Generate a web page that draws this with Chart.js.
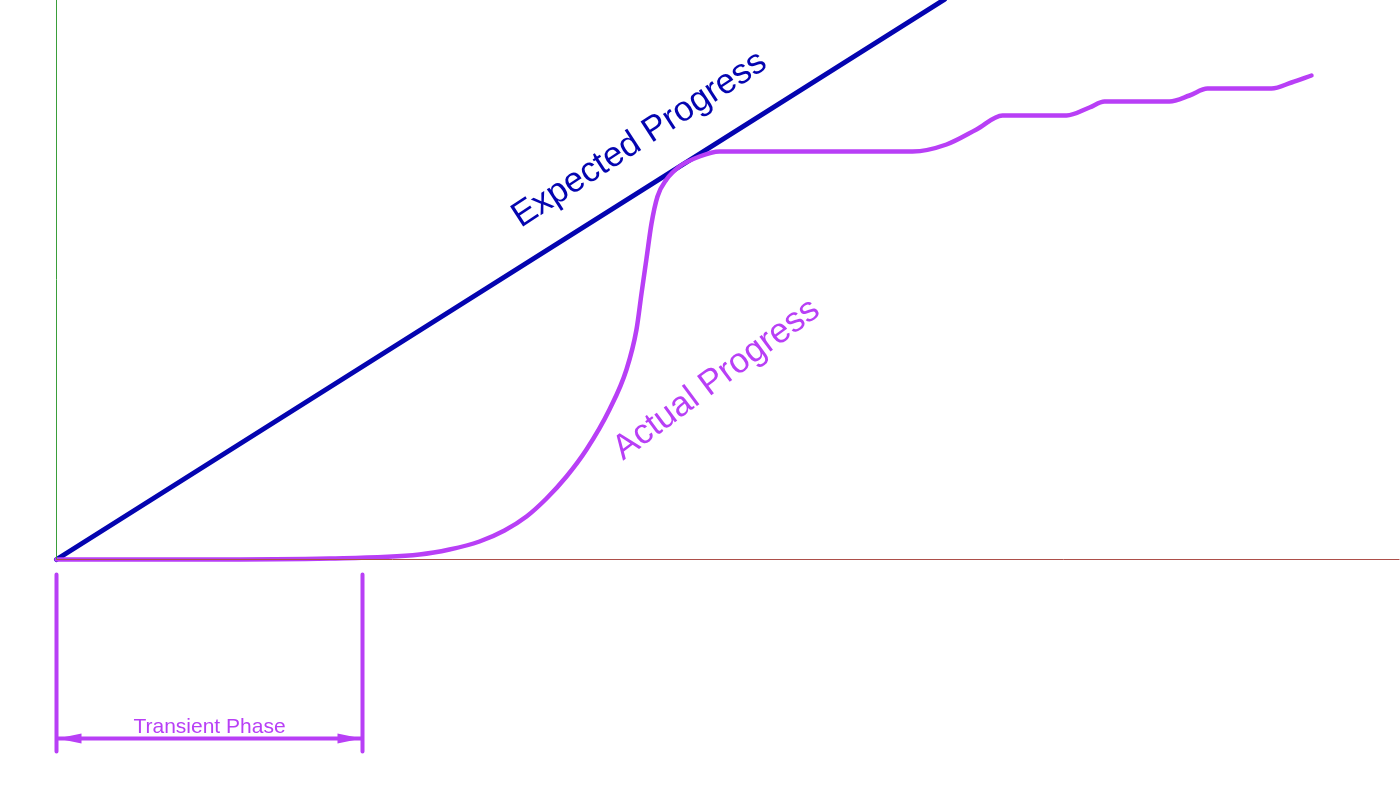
<!DOCTYPE html>
<html>
<head>
<meta charset="utf-8">
<script src="https://cdn.jsdelivr.net/npm/chart.js@4.4.1/dist/chart.umd.min.js"></script>
<style>
  html, body { margin: 0; padding: 0; background: #fff; }
  #chart { display: block; }
</style>
</head>
<body>
<canvas id="chart" width="1400" height="788"></canvas>
<script>
// time runs along x, progress along y (same units, origin at the axes corner)
const expectedX = [0, 888];
const expectedY = [0, 560];

const actualX = [0, 143, 273, 363, 393, 423, 448, 470, 490, 510, 530, 553, 570, 580, 585, 590, 595, 601, 610, 623, 643, 663, 856, 890, 920, 946, 1010, 1033, 1048, 1113, 1133, 1151, 1215, 1235, 1255];
const actualY = [0, 0, 1, 5, 10, 18, 29, 43, 61, 83, 110, 150, 190, 230, 266, 301, 336, 363, 380, 393, 403, 408, 408, 415, 430, 444, 444, 452, 458, 458, 464, 471, 471, 477, 484];

const transientStart = 0;
const transientEnd = 306;

const xAxisLine = [0, 1343];
const yAxisLine = [0, 560];

const toPoints = (xs, ys) => xs.map((x, i) => ({ x, y: ys[i] }));

const purple = '#b83ff6';
const blue = '#0404b0';

const annotationsPlugin = {
  id: 'annotations',
  afterDatasetsDraw(chart) {
    const { ctx } = chart;
    const xs = chart.scales.x;
    const ys = chart.scales.y;

    ctx.save();
    // rotated labels
    ctx.font = '35px "Liberation Sans", Arial, sans-serif';
    ctx.textAlign = 'center';
    ctx.textBaseline = 'middle';

    ctx.fillStyle = blue;
    ctx.translate(xs.getPixelForValue(583), ys.getPixelForValue(420));
    ctx.rotate(-33 * Math.PI / 180);
    ctx.fillText('Expected Progress', 0, 0);
    ctx.setTransform(1, 0, 0, 1, 0, 0);

    ctx.fillStyle = purple;
    ctx.translate(xs.getPixelForValue(660), ys.getPixelForValue(180));
    ctx.rotate(-36.5 * Math.PI / 180);
    ctx.fillText('Actual Progress', 0, 0);
    ctx.setTransform(1, 0, 0, 1, 0, 0);

    // transient phase bracket
    const x0 = xs.getPixelForValue(transientStart);
    const x1 = xs.getPixelForValue(transientEnd);
    const top = ys.getPixelForValue(-15);
    const bottom = ys.getPixelForValue(-192);
    const arrowY = ys.getPixelForValue(-179);

    ctx.strokeStyle = purple;
    ctx.fillStyle = purple;
    ctx.lineWidth = 4;
    ctx.lineCap = 'round';
    ctx.beginPath();
    ctx.moveTo(x0, top); ctx.lineTo(x0, bottom);
    ctx.moveTo(x1, top); ctx.lineTo(x1, bottom);
    ctx.moveTo(x0, arrowY); ctx.lineTo(x1, arrowY);
    ctx.stroke();

    ctx.beginPath();
    ctx.moveTo(x0 + 1, arrowY);
    ctx.lineTo(x0 + 25, arrowY - 5);
    ctx.lineTo(x0 + 25, arrowY + 5);
    ctx.closePath();
    ctx.fill();
    ctx.beginPath();
    ctx.moveTo(x1 - 1, arrowY);
    ctx.lineTo(x1 - 25, arrowY - 5);
    ctx.lineTo(x1 - 25, arrowY + 5);
    ctx.closePath();
    ctx.fill();

    ctx.font = '21px "Liberation Sans", Arial, sans-serif';
    ctx.textBaseline = 'alphabetic';
    ctx.fillText('Transient Phase', (x0 + x1) / 2, arrowY - 6);
    ctx.restore();
  },
};

new Chart(document.getElementById('chart'), {
  type: 'line',
  data: {
    datasets: [
      {
        data: toPoints(xAxisLine, [0, 0]),
        borderColor: '#ad4f4a',
        borderWidth: 1,
        pointRadius: 0,
      },
      {
        data: toPoints([0, 0], yAxisLine),
        borderColor: '#3a9e3a',
        borderWidth: 1,
        pointRadius: 0,
      },
      {
        data: toPoints(actualX, actualY),
        borderColor: purple,
        borderWidth: 4.5,
        borderCapStyle: 'round',
        borderJoinStyle: 'round',
        cubicInterpolationMode: 'monotone',
        pointRadius: 0,
      },
      {
        data: toPoints(expectedX, expectedY),
        borderColor: blue,
        borderWidth: 5,
        borderCapStyle: 'round',
        pointRadius: 0,
      },
    ],
  },
  options: {
    responsive: false,
    animation: false,
    layout: { padding: 0 },
    scales: {
      x: { type: 'linear', min: -56.5, max: 1343.5, display: false },
      y: { type: 'linear', min: -228.5, max: 559.5, display: false },
    },
    plugins: {
      legend: { display: false },
      tooltip: { enabled: false },
    },
  },
  plugins: [annotationsPlugin],
});
</script>
</body>
</html>
